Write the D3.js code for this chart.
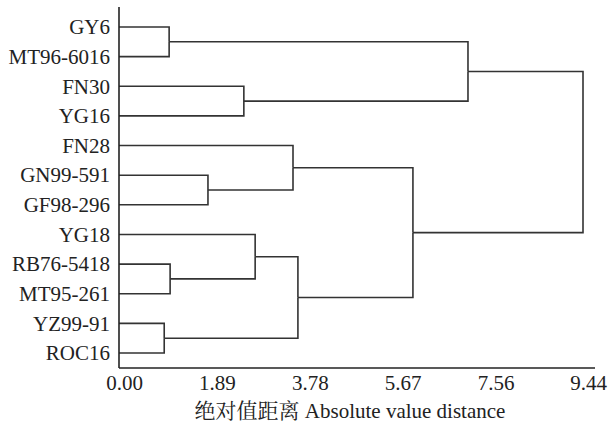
<!DOCTYPE html>
<html>
<head>
<meta charset="utf-8">
<script src="https://cdn.jsdelivr.net/npm/d3@7"></script>
</head>
<body style="margin:0; background:#fff">
<div id="container"></div>
<script>
/* DATA */
const leaves = ["GY6", "MT96-6016", "FN30", "YG16", "FN28", "GN99-591",
  "GF98-296", "YG18", "RB76-5418", "MT95-261", "YZ99-91", "ROC16"];

// merge steps, in order: cluster id, the two joined items, joining distance
const clusters = ["c1", "c2", "c3", "c4", "c5", "c6", "c7", "c8", "c9", "c10", "c11"];
const childA = ["GY6", "FN30", "GN99-591", "FN28", "RB76-5418", "YG18", "YZ99-91", "c6", "c4", "c1", "c10"];
const childB = ["MT96-6016", "YG16", "GF98-296", "c3", "MT95-261", "c5", "ROC16", "c7", "c8", "c2", "c9"];
const heights = [1.02, 2.54, 1.81, 3.54, 1.04, 2.77, 0.92, 3.64, 5.98, 7.10, 9.44];

const tickVals = [0, 1.89, 3.78, 5.67, 7.56, 9.44];
const xTitleZh = "绝对值距离";
const xTitleEn = " Absolute value distance";

/* CONSTANTS */
const width = 609, height = 429;
const axisX = 119, axisY = 368;

const svg = d3.select("#container")
  .append("svg")
  .attr("width", width)
  .attr("height", height);

/* SCALES */
const xScale = d3.scaleLinear()
  .domain([0, 9.44])
  .range([axisX, 583]);

const yScale = d3.scalePoint()
  .domain(leaves)
  .range([27, 353]);

/* TREE */
const nodeMap = {};
leaves.forEach(n => nodeMap[n] = { name: n, h: 0 });
clusters.forEach((c, i) => {
  nodeMap[c] = { name: c, h: heights[i], children: [nodeMap[childA[i]], nodeMap[childB[i]]] };
});
const root = d3.hierarchy(nodeMap[clusters[clusters.length - 1]]);

root.eachAfter(d => {
  d.px = xScale(d.data.h);
  d.py = d.children ? d3.mean(d.children, c => c.py) : yScale(d.data.name);
});

svg.append("g")
  .selectAll("path")
  .data(root.links())
  .join("path")
  .attr("fill", "none")
  .attr("stroke", "#333")
  .attr("stroke-width", 1.6)
  .attr("d", l => `M${l.target.px},${l.target.py}H${l.source.px}V${l.source.py}`);

/* AXES */
const yAxis = d3.axisLeft(yScale).tickSize(0).tickPadding(9);
svg.append("g")
  .attr("transform", `translate(${axisX},0)`)
  .call(yAxis)
  .call(g => g.select(".domain").remove())
  .selectAll("text")
  .style("font-family", '"Liberation Serif"')
  .style("font-size", "21px")
  .style("fill", "#222");

const xAxis = d3.axisBottom(xScale)
  .tickValues(tickVals)
  .tickFormat(d3.format(".2f"))
  .tickSize(0)
  .tickPadding(7);
svg.append("g")
  .attr("transform", `translate(5,${axisY})`)
  .call(xAxis)
  .call(g => g.select(".domain").remove())
  .selectAll("text")
  .style("font-family", '"Liberation Serif"')
  .style("font-size", "21px")
  .style("fill", "#222");

svg.append("line")
  .attr("x1", axisX).attr("x2", axisX)
  .attr("y1", 7).attr("y2", axisY)
  .attr("stroke", "#222").attr("stroke-width", 1.6);
svg.append("line")
  .attr("x1", axisX).attr("x2", 595)
  .attr("y1", axisY).attr("y2", axisY)
  .attr("stroke", "#222").attr("stroke-width", 1.6);

const title = svg.append("text")
  .attr("x", 350)
  .attr("y", 418)
  .attr("text-anchor", "middle")
  .style("font-size", "21px")
  .style("fill", "#222");
title.append("tspan").style("font-family", '"Noto Serif CJK SC"').text(xTitleZh);
title.append("tspan").style("font-family", '"Liberation Serif"').text(xTitleEn);
</script>
</body>
</html>
